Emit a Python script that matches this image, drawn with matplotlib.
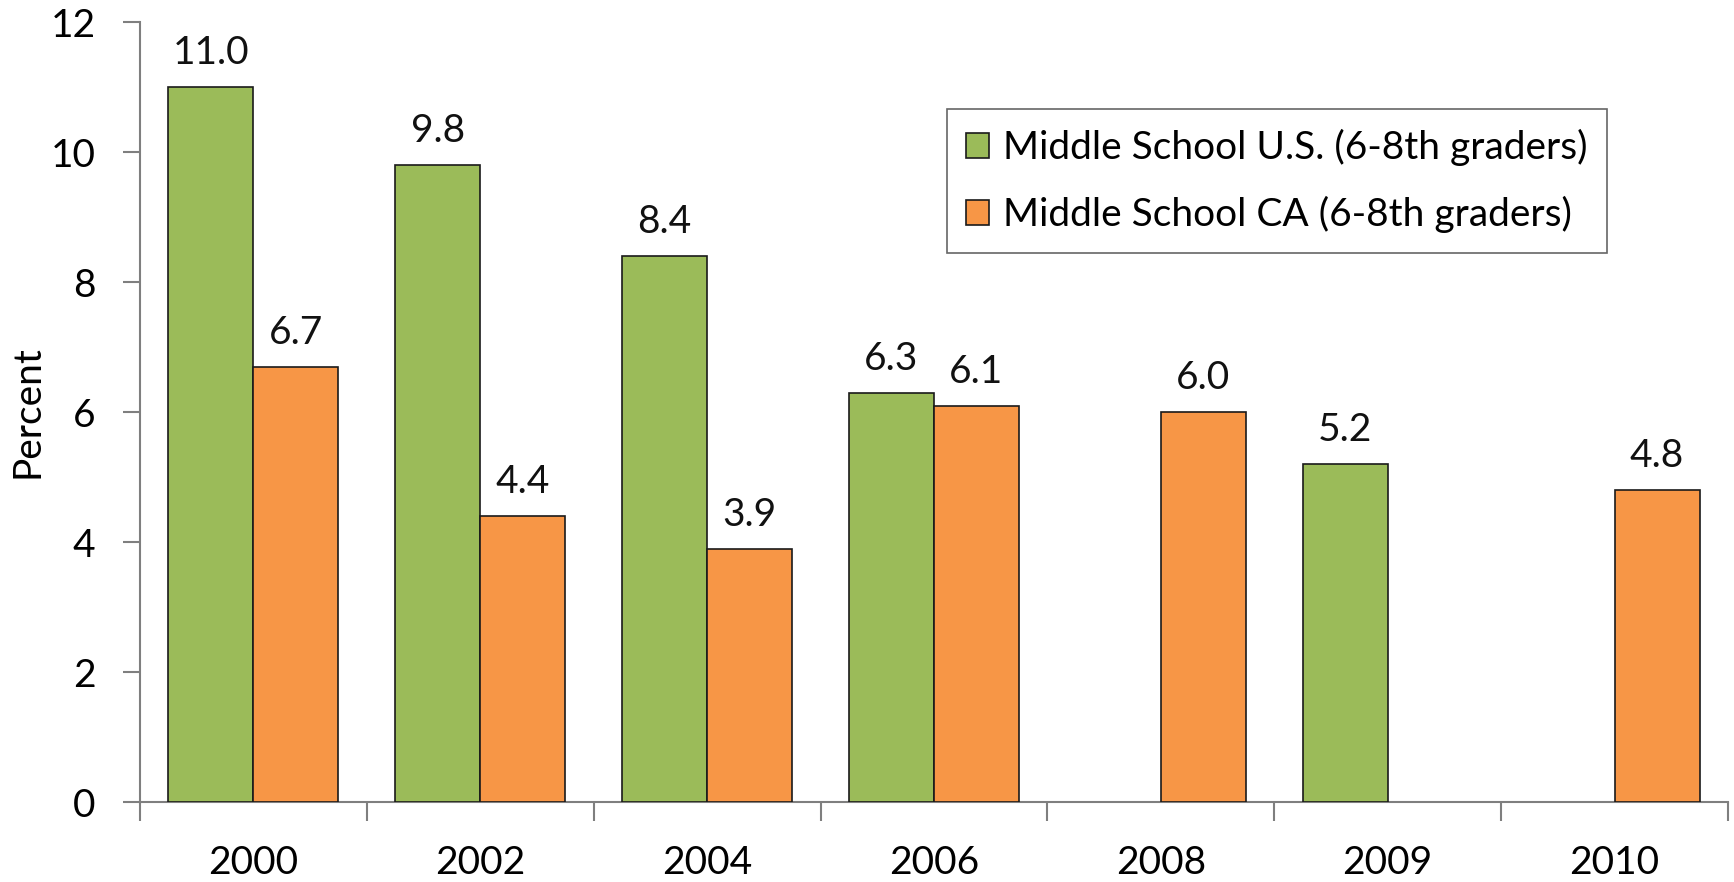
import numpy as np
import matplotlib
matplotlib.use("Agg")
import matplotlib.pyplot as plt

plt.rcParams['font.family'] = ['Lato', 'DejaVu Sans']

years = ["2000", "2002", "2004", "2006", "2008", "2009", "2010"]
us_values = [11.0, 9.8, 8.4, 6.3, np.nan, 5.2, np.nan]
ca_values = [6.7, 4.4, 3.9, 6.1, 6.0, np.nan, 4.8]
series_names = ["Middle School U.S. (6-8th graders)", "Middle School CA (6-8th graders)"]
y_ticks = [0, 2, 4, 6, 8, 10, 12]

green = "#9BBB59"
orange = "#F79646"
axis_col = "#7F7F7F"
FS = 28

fig = plt.figure(figsize=(17.34, 8.82), dpi=100)
ax = fig.add_axes([0.0807, 0.0907, 0.9158, 0.8843])

x = np.arange(len(years))
w = 0.375
ax.bar(x - w / 2, us_values, w, color=green, edgecolor="#1a1a1a", linewidth=1.2,
       label=series_names[0], zorder=3)
ax.bar(x + w / 2, ca_values, w, color=orange, edgecolor="#1a1a1a", linewidth=1.2,
       label=series_names[1], zorder=3)

for xs, vals in ((x - w / 2, us_values), (x + w / 2, ca_values)):
    for xi, v in zip(xs, vals):
        if np.isnan(v):
            continue
        ax.annotate(f"{v:.1f}", (xi, v), xytext=(0, 16.5), textcoords="offset points",
                    ha="center", va="baseline", fontsize=FS, color="#111111")

ax.set_xlim(-0.5, len(years) - 0.5)
ax.set_ylim(0, 12)
ax.set_yticks(y_ticks)
ax.set_yticklabels([str(t) for t in y_ticks], fontsize=FS)
ax.set_xticks(x)
ax.set_xticklabels(years, fontsize=FS)
ax.tick_params(axis="x", which="major", length=0, pad=31)
ax.set_xticks(np.arange(len(years) + 1) - 0.5, minor=True)
ax.tick_params(axis="x", which="minor", length=14, width=1.5, color=axis_col, direction="out")
ax.tick_params(axis="y", length=12, width=1.5, color=axis_col, pad=20)

for s in ("top", "right"):
    ax.spines[s].set_visible(False)
for s in ("left", "bottom"):
    ax.spines[s].set_color(axis_col)
    ax.spines[s].set_linewidth(1.5)

ax.set_ylabel("Percent", fontsize=FS)
ax.yaxis.set_label_coords(-0.0592, 0.5)

leg = ax.legend(loc="upper left", bbox_to_anchor=(0.508, 0.888), fontsize=FS, frameon=True,
                fancybox=False, edgecolor="#404040", handlelength=0.6, handleheight=0.6,
                handletextpad=0.35, labelspacing=0.78, borderpad=0.5, borderaxespad=0)
leg.get_frame().set_linewidth(1.2)

fig.savefig("out.png", dpi=100)
